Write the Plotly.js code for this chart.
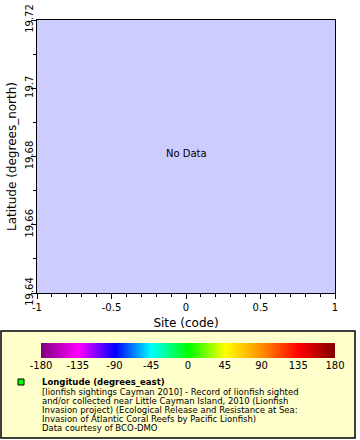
<!DOCTYPE html>
<html>
<head>
<meta charset="utf-8">
<script src="https://cdn.plot.ly/plotly-3.0.1.min.js"></script>
<style>html,body{margin:0;padding:0;background:#fff;}#chart{width:360px;height:440px;}</style>
</head>
<body>
<div id="chart"></div>
<script>
// ---- data (the dataset returned no records) ----
const siteCodes = [];
const latitudes = [];
const longitudes = [];

// ---- axes / ticks ----
const xTickVals = [-1, -0.5, 0, 0.5, 1];
const xTickText = ["-1", "-0.5", "0", "0.5", "1"];
const yTickVals = [19.64, 19.66, 19.68, 19.7, 19.72];
const yTickText = ["19.64", "19.66", "19.68", "19.7", "19.72"];
const xRange = [-1, 1];
const yRange = [19.64, 19.72];

// ---- colour bar (longitude scale) ----
const cbTickVals = [-180, -135, -90, -45, 0, 45, 90, 135, 180];
const cbTickText = ["-180", "-135", "-90", "-45", "0", "45", "90", "135", "180"];
const cbColors = ["#800080", "#ff00ff", "#0000ff", "#00ffff", "#00ff00", "#ffff00", "#ff8c00", "#ff0000", "#800000"];

// ---- legend text ----
const legendTitle = "Longitude (degrees_east)";
const legendLines = [
  "[lionfish sightings Cayman 2010] - Record of lionfish sighted",
  "and/or collected near Little Cayman Island, 2010 (Lionfish",
  "Invasion project) (Ecological Release and Resistance at Sea:",
  "Invasion of Atlantic Coral Reefs by Pacific Lionfish)",
  "Data courtesy of BCO-DMO"
];

const W = 360, H = 440;
const px2x = p => p / W;
const py2y = p => (H - p) / H;

const colorscale = cbColors.map((c, i) => [i / (cbColors.length - 1), c]);
const font = "DejaVu Sans, Verdana, sans-serif";

const dataTrace = {
  type: "scatter",
  mode: "markers",
  x: siteCodes,
  y: latitudes,
  marker: {color: longitudes, cmin: -180, cmax: 180, colorscale: colorscale, size: 6},
  showlegend: false,
  hoverinfo: "skip",
  xaxis: "x", yaxis: "y"
};

const scaleTrace = {
  type: "heatmap",
  x: cbTickVals,
  y: [0],
  z: [cbTickVals],
  zmin: -180, zmax: 180,
  zsmooth: "best",
  colorscale: colorscale,
  showscale: false,
  hoverinfo: "skip",
  xaxis: "x2", yaxis: "y2"
};

const annotations = [
  {x: 0, y: 19.68, xref: "x", yref: "y", text: "No Data", showarrow: false,
   yshift: 3, font: {family: font, size: 10, color: "#000"}},
  {x: px2x(40), y: py2y(382), xref: "paper", yref: "paper", xanchor: "left", yanchor: "middle",
   text: "<b>" + legendTitle + "</b>", showarrow: false,
   font: {family: font, size: 8.5, color: "#000"}}
];
legendLines.forEach((t, i) => {
  annotations.push({x: px2x(40), y: py2y(391.5 + i * 9), xref: "paper", yref: "paper",
    xanchor: "left", yanchor: "middle", text: t, showarrow: false,
    font: {family: font, size: 8.5, color: "#000"}});
});

const shapes = [
  {type: "rect", xref: "paper", yref: "paper", layer: "below",
   x0: px2x(1), x1: px2x(355), y0: py2y(331), y1: py2y(438),
   fillcolor: "#ffffcc", line: {color: "#000", width: 1.5}},
  {type: "rect", xref: "paper", yref: "paper",
   x0: px2x(18), x1: px2x(24), y0: py2y(379), y1: py2y(385),
   fillcolor: "#00ff00", line: {color: "#000", width: 1}}
];

const axisCommon = {
  showgrid: false, zeroline: false, showline: true, linecolor: "#000", linewidth: 1,
  mirror: true, ticks: "outside", ticklen: 5, tickcolor: "#000", tickwidth: 1,
  tickfont: {family: font, size: 10, color: "#000"}, fixedrange: true, automargin: false
};

const layout = {
  width: W, height: H,
  margin: {l: 0, r: 0, t: 0, b: 0, pad: 0},
  paper_bgcolor: "#ffffff",
  plot_bgcolor: "#ccccff",
  font: {family: font, color: "#000"},
  showlegend: false,
  xaxis: Object.assign({}, axisCommon, {
    domain: [px2x(37), px2x(335)], anchor: "y",
    range: xRange, tickmode: "array", tickvals: xTickVals, ticktext: xTickText,
    minor: {dtick: 0.1, ticks: "outside", ticklen: 3, tickcolor: "#000", showgrid: false},
    title: {text: "Site (code)", font: {family: font, size: 12, color: "#000"}, standoff: 6}
  }),
  yaxis: Object.assign({}, axisCommon, {
    domain: [py2y(293), py2y(20)], anchor: "x",
    range: yRange, tickmode: "array", tickvals: yTickVals, ticktext: yTickText,
    tickangle: -90, ticklabelstandoff: -6,
    minor: {dtick: 0.01, ticks: "outside", ticklen: 3, tickcolor: "#000", showgrid: false},
    title: {text: "Latitude (degrees_north)", font: {family: font, size: 12, color: "#000"}, standoff: 4}
  }),
  xaxis2: {
    domain: [px2x(41), px2x(335)], anchor: "y2",
    range: [-180, 180], tickmode: "array", tickvals: cbTickVals, ticktext: cbTickText,
    showgrid: false, zeroline: false, showline: false, ticks: "",
    tickfont: {family: font, size: 10, color: "#000"}, fixedrange: true, automargin: false
  },
  yaxis2: {
    domain: [py2y(358), py2y(343)], anchor: "x2",
    range: [-0.5, 0.5], visible: false, fixedrange: true
  },
  annotations: annotations,
  shapes: shapes
};

Plotly.newPlot("chart", [dataTrace, scaleTrace], layout, {displayModeBar: false, staticPlot: true});
</script>
</body>
</html>
